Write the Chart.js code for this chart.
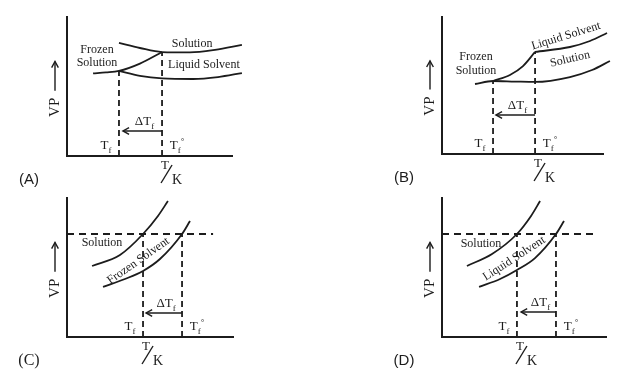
<!DOCTYPE html>
<html>
<head>
<meta charset="utf-8">
<script src="https://cdn.jsdelivr.net/npm/chart.js@4.4.0/dist/chart.umd.min.js"></script>
<style>
  html, body { margin: 0; padding: 0; background: #fff; }
  #wrap { position: relative; width: 638px; height: 382px; }
  .p { position: absolute; width: 319px; height: 191px; }
</style>
</head>
<body>
<div id="wrap">
  <div class="p" style="left:0;top:0"><canvas id="cA" width="319" height="191"></canvas></div>
  <div class="p" style="left:319px;top:0"><canvas id="cB" width="319" height="191"></canvas></div>
  <div class="p" style="left:0;top:191px"><canvas id="cC" width="319" height="191"></canvas></div>
  <div class="p" style="left:319px;top:191px"><canvas id="cD" width="319" height="191"></canvas></div>
</div>
<script>
// (A) solution freezing: vapour pressure vs temperature
const aSolution = [[31.5, 81.3], [44.2, 77.7], [57.6, 74.8], [74.5, 74.5], [89.7, 76.3], [106, 79.9]];
const aLiquid = [[31.5, 61.2], [44.2, 57.6], [57.6, 55.8], [76.4, 55.4], [91.5, 56.8], [106, 59.7]];
const aFrozen = [[15.8, 59.4], [23.6, 60.1], [31.5, 61.2], [44.2, 66.5], [57.6, 74.8]];
const aFreeze = [[31.5, 61.2], [57.6, 74.8]];
const aArrow = [[57.6, 18], [33.9, 18]];
const aText = [["Frozen", 18.2, 76.3, 0], ["Solution", 18.2, 66.9, 0], ["Solution", 75.8, 80.6, 0], ["Liquid Solvent", 83, 65.5, 0]];

// (B)
const bSolution = [[20.5, 51.1], [31.7, 53.3], [45.3, 52.9], [57.8, 52.6], [79.5, 56.2], [93.2, 61.3], [104.3, 67.9]];
const bFrozen = [[31.7, 53.3], [42.2, 57.7], [50.3, 64.2], [57.8, 74.5]];
const bLiquid = [[57.8, 74.5], [79.5, 78.1], [91.9, 82.5], [102.5, 88.3]];
const bFreeze = [[31.7, 53.3], [57.8, 74.5]];
const bArrow = [[57.8, 28.5], [33.5, 28.5]];
const bText = [["Frozen", 21.1, 70.8, 0], ["Solution", 21.1, 60.6, 0], ["Liquid Solvent", 77, 86.1, -17], ["Solution", 79.5, 69.3, -13]];

// (C)
const cSolution = [[15.1, 51.1], [31.9, 59.0], [45.8, 74.1], [54.8, 87.1], [60.8, 97.8]];
const cFrozen = [[21.7, 36.0], [34.9, 41.7], [45.8, 47.5], [56.0, 56.1], [69.3, 74.1], [74.1, 83.5]];
const cFreeze = [[45.8, 74.1], [69.3, 74.1]];
const cLevel = [[0, 74.1], [88, 74.1]];
const cArrow = [[69.3, 17.3], [47.6, 17.3]];
const cText = [["Solution", 21.1, 67.6, 0], ["Frozen Solvent", 43.0, 54.8, -35]];

// (D)
const dSolution = [[15.2, 51.1], [30.5, 59.7], [45.7, 74.1], [54.3, 87.1], [59.8, 97.8]];
const dLiquid = [[22.6, 36.0], [35.4, 41.7], [45.7, 48.2], [56.7, 56.8], [69.5, 74.1], [74.4, 83.5]];
const dFreeze = [[45.7, 74.1], [69.5, 74.1]];
const dLevel = [[0, 74.1], [94.5, 74.1]];
const dArrow = [[69.5, 18], [48.2, 18]];
const dText = [["Solution", 23.8, 66.9, 0], ["Liquid Solvent", 44.0, 56.4, -33]];

// axis words and panel names
const yTitle = "VP";
const xTitle = ["T", "K"];
const deltaLabel = ["\u0394T", "f"];
const freezeLabels = [["T", "f", ""], ["T", "f", "\u00b0"]];
const panelNames = ["(A)", "(B)", "(C)", "(D)"];
const tkAt = [57.6, 57.8, 45.8, 45.7];

const INK = '#1c1c1c';
const SERIF = '"Liberation Serif", "DejaVu Serif", serif';

const pts = a => a.map(([x, y]) => ({ x, y }));

function curve(a) {
  return { data: pts(a), showLine: true, borderColor: INK, borderWidth: 1.8, pointRadius: 0,
    cubicInterpolationMode: 'monotone', clip: false };
}
function dashed(a, dash) {
  return { data: pts(a), showLine: true, borderColor: INK, borderWidth: 1.8, pointRadius: 0,
    borderDash: dash, clip: false };
}
function plain(a) {
  return { data: pts(a), showLine: true, borderColor: INK, borderWidth: 1.4, pointRadius: 0, clip: false };
}

function subText(ctx, x, y, main, sub, sup, size) {
  ctx.font = size + 'px ' + SERIF;
  const w1 = ctx.measureText(main).width;
  const small = Math.round(size * 0.72) + 'px ' + SERIF;
  ctx.font = small;
  const w2 = ctx.measureText(sub).width;
  const w3 = sup ? ctx.measureText(sup).width : 0;
  const sx = x - (w1 + w2 + w3) / 2;
  ctx.textAlign = 'left';
  ctx.textBaseline = 'middle';
  ctx.font = size + 'px ' + SERIF;
  ctx.fillText(main, sx, y);
  ctx.font = small;
  ctx.fillText(sub, sx + w1, y + size * 0.35);
  if (sup) ctx.fillText(sup, sx + w1 + w2, y - size * 0.3);
}

function head(ctx, x, y, ang) {
  const L = 7, s = 0.5;
  ctx.beginPath();
  ctx.moveTo(x + L * Math.cos(ang + s), y + L * Math.sin(ang + s));
  ctx.lineTo(x, y);
  ctx.lineTo(x + L * Math.cos(ang - s), y + L * Math.sin(ang - s));
  ctx.stroke();
}

function panel(id, idx, pad, lines, freeze, arrow, level, text, letterFont) {
  const datasets = lines.map(curve);
  freeze.forEach(([fx, fy]) => datasets.push(dashed([[fx, 0], [fx, fy]], [6, 4])));
  if (level) datasets.push(dashed(level, [7, 5]));
  datasets.push(plain(arrow));

  const notes = {
    id: 'notes' + idx,
    afterDatasetsDraw(chart) {
      const { ctx, scales: { x, y } } = chart;
      const X = v => x.getPixelForValue(v), Y = v => y.getPixelForValue(v);
      ctx.save();
      ctx.fillStyle = INK;
      ctx.strokeStyle = INK;
      ctx.lineWidth = 1.4;
      // arrowhead of the ΔTf arrow
      head(ctx, X(arrow[1][0]), Y(arrow[1][1]), 0);
      subText(ctx, (X(arrow[0][0]) + X(arrow[1][0])) / 2 + 2, Y(arrow[1][1]) - 9, deltaLabel[0], deltaLabel[1], '', 13);
      // Tf and Tf° beside the dashed lines
      const base = Y(0) - 10;
      subText(ctx, X(freeze[0][0]) - 13, base, freezeLabels[0][0], freezeLabels[0][1], '', 13);
      subText(ctx, X(freeze[1][0]) + 15, base, freezeLabels[1][0], freezeLabels[1][1], freezeLabels[1][2], 13);
      // curve labels
      ctx.font = '12px ' + SERIF;
      ctx.textAlign = 'center';
      ctx.textBaseline = 'middle';
      text.forEach(([t, tx, ty, r]) => {
        ctx.save();
        ctx.translate(X(tx), Y(ty));
        ctx.rotate(r * Math.PI / 180);
        ctx.fillText(t, 0, 0);
        ctx.restore();
      });
      // VP title with arrow
      const vx = X(0) - 12;
      ctx.save();
      ctx.translate(vx, Y(35));
      ctx.rotate(-Math.PI / 2);
      ctx.font = '15px ' + SERIF;
      ctx.fillText(yTitle, 0, 0);
      ctx.restore();
      ctx.beginPath();
      ctx.moveTo(vx, Y(47));
      ctx.lineTo(vx, Y(68));
      ctx.stroke();
      head(ctx, vx, Y(68), Math.PI / 2);
      // T/K
      const tx = X(tkAt[idx]), ty = Y(0);
      ctx.font = '13px ' + SERIF;
      ctx.fillText(xTitle[0], tx + 3, ty + 10);
      ctx.font = '14px ' + SERIF;
      ctx.fillText(xTitle[1], tx + 15, ty + 24);
      ctx.beginPath();
      ctx.moveTo(tx - 1, ty + 27);
      ctx.lineTo(tx + 10, ty + 9);
      ctx.stroke();
      // panel letter
      ctx.font = letterFont;
      ctx.fillText(panelNames[idx], X(0) - 38, ty + 24);
      ctx.restore();
    }
  };

  const axis = {
    type: 'linear', min: 0, max: 100,
    grid: { display: false, drawTicks: false, tickLength: 0 },
    ticks: { display: false },
    border: { display: true, color: INK, width: 2 }
  };

  new Chart(document.getElementById(id), {
    type: 'scatter',
    data: { datasets },
    options: {
      responsive: false,
      animation: false,
      devicePixelRatio: 1,
      layout: { padding: pad },
      plugins: { legend: { display: false }, tooltip: { enabled: false } },
      scales: { x: axis, y: axis }
    },
    plugins: [notes]
  });
}

panel('cA', 0, { left: 67, top: 17, right: 87, bottom: 35 },
  [aSolution, aLiquid, aFrozen], aFreeze, aArrow, null, aText, '15px "Liberation Sans", Arial, sans-serif');
panel('cB', 1, { left: 123, top: 17, right: 35, bottom: 37 },
  [bSolution, bFrozen, bLiquid], bFreeze, bArrow, null, bText, '15px "Liberation Sans", Arial, sans-serif');
panel('cC', 2, { left: 67, top: 7, right: 86, bottom: 45 },
  [cSolution, cFrozen], cFreeze, cArrow, cLevel, cText, '16px ' + SERIF);
panel('cD', 3, { left: 123, top: 7, right: 32, bottom: 45 },
  [dSolution, dLiquid], dFreeze, dArrow, dLevel, dText, '15px "Liberation Sans", Arial, sans-serif');
</script>
</body>
</html>
